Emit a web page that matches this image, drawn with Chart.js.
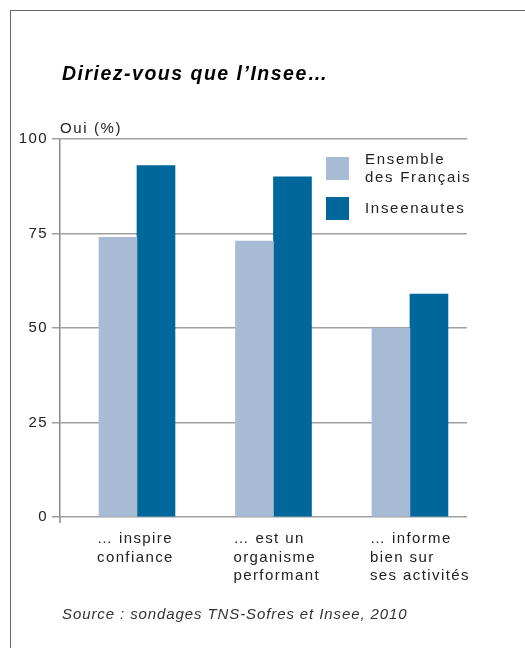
<!DOCTYPE html>
<html>
<head>
<meta charset="utf-8">
<script src="https://cdn.jsdelivr.net/npm/chart.js@4"></script>
<style>
  body { margin: 0; background: #fff; width: 525px; height: 648px; overflow: hidden; position: relative; font-family: "Liberation Sans", Arial, sans-serif; color: #222; }
  #frame { position: absolute; left: 10px; top: 10px; width: 600px; height: 700px; border-left: 1.5px solid #666; border-top: 1.5px solid #666; }
  #chart { position: absolute; left: 0; top: 0; }
  #title { position: absolute; left: 62px; top: 61px; font: italic bold 19.5px/24px "Liberation Sans", Arial, sans-serif; letter-spacing: 1.5px; color: #000; white-space: nowrap; }
  #unit { position: absolute; left: 60px; top: 119px; font: 15px/18px "Liberation Sans", Arial, sans-serif; letter-spacing: 1.6px; }
  #legend { position: absolute; left: 326px; top: 150px; }
  .item { display: flex; align-items: center; margin-bottom: 10px; }
  .box { width: 23px; height: 23px; margin-right: 16px; flex: none; }
  .lbl { font: 15px/18.4px "Liberation Sans", Arial, sans-serif; letter-spacing: 1.7px; white-space: pre-line; }
  #source { position: absolute; left: 62px; top: 605px; font: italic 15px/18px "Liberation Sans", Arial, sans-serif; letter-spacing: 0.9px; color: #333; white-space: nowrap; }
</style>
</head>
<body>
<div id="frame"></div>
<canvas id="chart" width="525" height="648"></canvas>
<div id="title">Diriez-vous que l’Insee…</div>
<div id="unit">Oui (%)</div>
<div id="legend"></div>
<div id="source">Source : sondages TNS-Sofres et Insee, 2010</div>
<script>
// data
const categories = [
    ['… inspire', 'confiance'],
    ['… est un', 'organisme', 'performant'],
    ['… informe', 'bien sur', 'ses activités']
];
const seriesNames = ['Ensemble\ndes Français', 'Inseenautes'];
const ensembleFrancais = [74, 73, 50];
const inseenautes = [93, 90, 59];
const yTicks = [0, 25, 50, 75, 100];

const colors = ['#a7bbd4', '#00679b'];

// html legend (sits inside the plot, top right)
const legend = document.getElementById('legend');
seriesNames.forEach((name, i) => {
    const item = document.createElement('div');
    item.className = 'item';
    item.innerHTML = '<div class="box" style="background:' + colors[i] + '"></div><div class="lbl"></div>';
    item.querySelector('.lbl').textContent = name;
    legend.appendChild(item);
});

// canvas text is letter spaced like the original
const spacing = {
    id: 'spacing',
    beforeDraw(chart) { chart.ctx.letterSpacing = '1.4px'; }
};

// y axis line runs a bit below the zero line
const axisFoot = {
    id: 'axisFoot',
    afterDraw(chart) {
        const { ctx, chartArea } = chart;
        ctx.save();
        ctx.strokeStyle = '#8a8a8a';
        ctx.lineWidth = 1.5;
        ctx.beginPath();
        ctx.moveTo(chartArea.left, chartArea.bottom);
        ctx.lineTo(chartArea.left, chartArea.bottom + 6);
        ctx.stroke();
        ctx.restore();
    }
};

const toPoints = arr => arr.map((v, i) => ({ x: i + 1, y: v }));

const ctx = document.getElementById('chart').getContext('2d');
new Chart(ctx, {
    type: 'bar',
    data: {
        datasets: [{
            label: seriesNames[0],
            data: toPoints(ensembleFrancais),
            backgroundColor: colors[0]
        }, {
            label: seriesNames[1],
            data: toPoints(inseenautes),
            backgroundColor: colors[1]
        }]
    },
    options: {
        responsive: false,
        animation: false,
        barThickness: 38,
        layout: { padding: { left: 0, top: 139, right: 58, bottom: 31 } },
        plugins: {
            legend: { display: false },
            tooltip: { enabled: false }
        },
        scales: {
            x: {
                type: 'linear',
                offset: false,
                min: 0.436,
                max: 3.418,
                grid: { display: false, drawTicks: false, offset: false },
                border: { display: false },
                afterBuildTicks: scale => {
                    // labels start at the left edge of each group
                    scale.ticks = categories.map((c, i) => ({ value: i + 1 - 0.293 }));
                },
                afterFit: scale => { scale.height = 100; },
                ticks: {
                    autoSkip: false,
                    maxRotation: 0,
                    align: 'start',
                    padding: 13,
                    color: '#222',
                    font: { family: 'Liberation Sans', size: 15, lineHeight: 1.23 },
                    callback: (v, i) => categories[i]
                }
            },
            y: {
                min: 0,
                max: 100,
                afterBuildTicks: scale => {
                    scale.ticks = yTicks.map(v => ({ value: v }));
                },
                afterFit: scale => { scale.width = 60; },
                grid: { color: '#a0a0a0', lineWidth: 1.5, tickLength: 8, tickColor: '#a0a0a0' },
                border: { color: '#8a8a8a', width: 1.5 },
                ticks: {
                    padding: 4,
                    color: '#222',
                    font: { family: 'Liberation Sans', size: 15 }
                }
            }
        }
    },
    plugins: [spacing, axisFoot]
});
</script>
</body>
</html>
